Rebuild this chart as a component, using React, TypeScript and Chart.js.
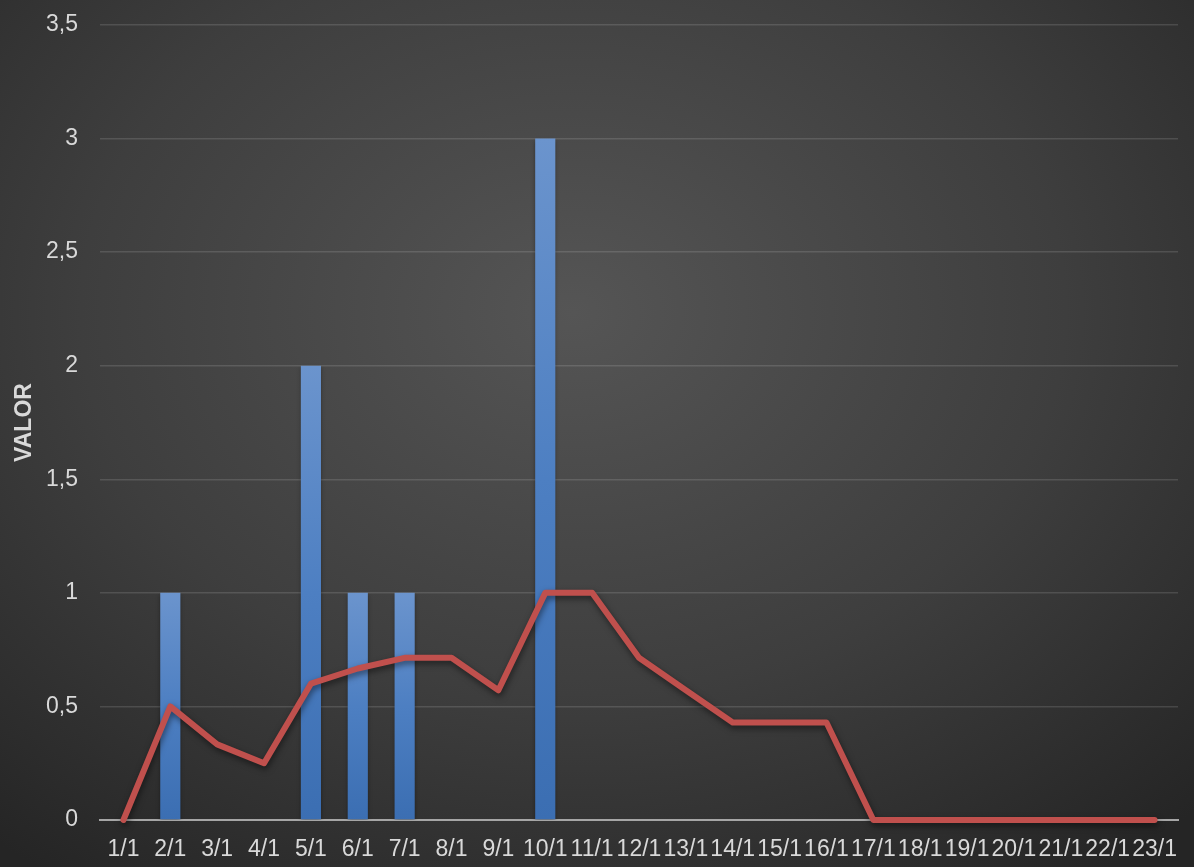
import { useEffect, useRef } from "react";
import { Chart, registerables } from "chart.js";

Chart.register(...registerables);

const categories = [
  "1/1", "2/1", "3/1", "4/1", "5/1", "6/1", "7/1", "8/1", "9/1", "10/1", "11/1", "12/1",
  "13/1", "14/1", "15/1", "16/1", "17/1", "18/1", "19/1", "20/1", "21/1", "22/1", "23/1",
];
const barValues = [0, 1, 0, 0, 2, 1, 1, 0, 0, 3, 0, 0, 0, 0, 0, 0, 0, 0, 0, 0, 0, 0, 0];
const lineValues = [
  0, 0.5, 0.333, 0.25, 0.6, 0.667, 0.714, 0.714, 0.571, 1, 1, 0.714,
  0.571, 0.429, 0.429, 0.429, 0, 0, 0, 0, 0, 0, 0,
];
const yMin = 0;
const yMax = 3.5;
const yStep = 0.5;
const yTitle = "VALOR";

const shadowPlugin = {
  id: "lineShadow",
  beforeDatasetDraw(chart: any, args: any) {
    const ctx = chart.ctx;
    ctx.save();
    if (args.meta.type === "line") {
      ctx.shadowColor = "rgba(0,0,0,0.5)";
      ctx.shadowBlur = 6;
      ctx.shadowOffsetX = 1;
      ctx.shadowOffsetY = 3;
    } else {
      ctx.shadowColor = "rgba(0,0,0,0.35)";
      ctx.shadowBlur = 4;
      ctx.shadowOffsetX = 0;
      ctx.shadowOffsetY = 2;
    }
  },
  afterDatasetDraw(chart: any) {
    chart.ctx.restore();
  },
};

const FONT = "'Liberation Sans', Arial, sans-serif";

export default function App() {
  const ref = useRef<HTMLCanvasElement | null>(null);

  useEffect(() => {
    document.body.style.margin = "0";
    const canvas = ref.current;
    if (!canvas) return;
    const chart = new Chart(canvas, {
      type: "bar",
      data: {
        labels: categories,
        datasets: [
          {
            type: "line",
            label: "line",
            data: lineValues,
            borderColor: "#c0504d",
            borderWidth: 6,
            pointRadius: 0,
            tension: 0,
            clip: false as any,
            order: 1,
            borderJoinStyle: "round",
            borderCapStyle: "round",
          } as any,
          {
            type: "bar",
            label: "bar",
            data: barValues,
            order: 2,
            barPercentage: 0.43,
            categoryPercentage: 1,
            backgroundColor: (c: any) => {
              const chart = c.chart;
              const area = chart.chartArea;
              if (!area || c.raw === undefined) return "#4a7fc0";
              const yS = chart.scales.y;
              const top = yS.getPixelForValue(c.raw);
              const bottom = yS.getPixelForValue(0);
              if (!isFinite(top) || bottom - top < 1) return "#4a7fc0";
              const g = chart.ctx.createLinearGradient(0, top, 0, bottom);
              g.addColorStop(0, "#6b94cd");
              g.addColorStop(0.5, "#4d7fc2");
              g.addColorStop(1, "#3b6eb2");
              return g;
            },
          } as any,
        ],
      },
      options: {
        animation: false,
        responsive: false,
        devicePixelRatio: 1,
        layout: { padding: { left: 0, right: 16, top: 25, bottom: 0 } },
        plugins: {
          legend: { display: false },
          tooltip: { enabled: false },
        },
        scales: {
          x: {
            offset: true,
            grid: { display: false, drawTicks: false },
            border: { display: true, color: "#a6a6a6", width: 2 },
            ticks: {
              autoSkip: false,
              maxRotation: 0,
              minRotation: 0,
              padding: 16,
              color: "#d9d9d9",
              font: { family: FONT, size: 23 },
            },
            afterFit(scale: any) {
              scale.height = 47;
              scale.paddingLeft = 0;
              scale.paddingRight = 0;
            },
          },
          y: {
            min: yMin,
            max: yMax,
            grid: { color: "rgba(255,255,255,0.13)", lineWidth: 1.5, drawTicks: false },
            border: { display: false },
            ticks: {
              stepSize: yStep,
              padding: 22,
              color: "#d9d9d9",
              font: { family: FONT, size: 23 },
              callback: (v: any) => String(v).replace(".", ","),
            },
            title: {
              display: true,
              text: yTitle,
              color: "#d9d9d9",
              font: { family: FONT, size: 23, weight: "bold" },
              padding: { top: 11, bottom: 0 },
            },
            afterFit(scale: any) {
              scale.width = 100;
              scale.paddingTop = 0;
              scale.paddingBottom = 0;
            },
          },
        },
      },
      plugins: [shadowPlugin],
    });
    return () => chart.destroy();
  }, []);

  return (
    <div
      style={{
        position: "fixed",
        left: 0,
        top: 0,
        width: 1194,
        height: 867,
        background: "radial-gradient(ellipse 75% 80% at 48% 36%, #555555 0%, #3e3e3e 55%, #252525 100%)",
      }}
    >
      <canvas ref={ref} width={1194} height={867} style={{ display: "block" }} />
    </div>
  );
}
